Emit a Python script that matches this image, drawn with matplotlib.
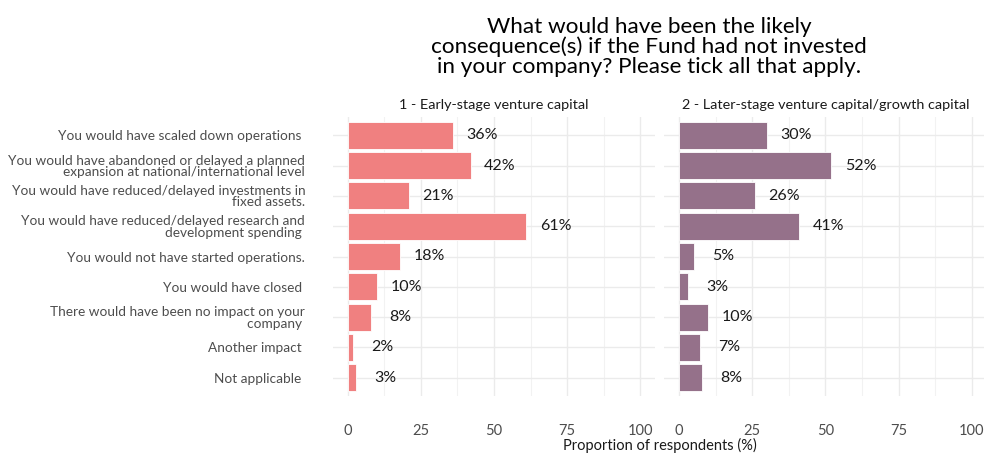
import matplotlib
matplotlib.use("Agg")
import matplotlib.pyplot as plt
import numpy as np

plt.rcParams['font.family'] = ['Lato', 'DejaVu Sans']

categories = [
    "You would have scaled down operations ",
    "You would have abandoned or delayed a planned\nexpansion at national/international level",
    "You would have reduced/delayed investments in\nfixed assets.",
    "You would have reduced/delayed research and\ndevelopment spending ",
    "You would not have started operations.",
    "You would have closed ",
    "There would have been no impact on your\ncompany ",
    "Another impact ",
    "Not applicable ",
]
early_stage = [36, 42, 21, 61, 18, 10, 8, 2, 3]
later_stage = [30, 52, 26, 41, 5, 3, 10, 7, 8]
panel_titles = ["1 - Early-stage venture capital", "2 - Later-stage venture capital/growth capital"]
x_ticks = [0, 25, 50, 75, 100]
title = ("What would have been the likely\nconsequence(s) if the Fund had not invested\n"
         "in your company? Please tick all that apply.")
x_label = "Proportion of respondents (%)"
colors = ["#F08080", "#95718A"]

W, H = 984, 454
fig = plt.figure(figsize=(W / 100, H / 100), dpi=100)

def fx(px):
    return px / W

def fy(py):
    return 1 - py / H

top_px, bot_px = 117, 396
panel_w = 322
lefts = [333, 664.4]
ypos = np.arange(len(categories))

for i, (vals, ptitle, col) in enumerate(zip([early_stage, later_stage], panel_titles, colors)):
    ax = fig.add_axes([fx(lefts[i]), fy(bot_px), fx(panel_w), (bot_px - top_px) / H])
    ax.set_xlim(-5, 105)
    ax.set_ylim(len(categories) - 0.4, -0.6)
    for s in ax.spines.values():
        s.set_visible(False)
    ax.set_xticks(x_ticks)
    ax.set_xticks([12.5, 37.5, 62.5, 87.5], minor=True)
    ax.set_yticks(ypos)
    ax.grid(True, which='major', color='#EBEBEB', linewidth=1.0, zorder=0)
    ax.grid(True, which='minor', axis='x', color='#F2F2F2', linewidth=0.8, zorder=0)
    ax.set_axisbelow(True)
    ax.tick_params(axis='both', which='both', length=0)
    ax.tick_params(axis='x', labelsize=10.5, labelcolor='#4D4D4D', pad=20)
    ax.barh(ypos, vals, height=0.9, color=col, edgecolor='white', linewidth=0.6, zorder=2)
    for y, v in zip(ypos, vals):
        ax.text(v + 10, y, f"{v}%", ha='center', va='center', fontsize=11.5, color='#1A1A1A', zorder=3)
    if i == 0:
        ax.set_yticklabels(categories, fontsize=9.8, color='#4D4D4D', linespacing=0.95)
        ax.tick_params(axis='y', pad=20)
    else:
        ax.set_yticklabels([])
    ax.set_title(ptitle, fontsize=10.4, color='#1A1A1A', pad=6)

fig.text(fx(659.5), fy(445), x_label, ha='center', va='center', fontsize=10.5, color='#1A1A1A')
fig.text(fx(649), fy(47), title, ha='center', va='center', fontsize=16.2, color='#000000', linespacing=1.0)

fig.savefig("out.png", dpi=100)
